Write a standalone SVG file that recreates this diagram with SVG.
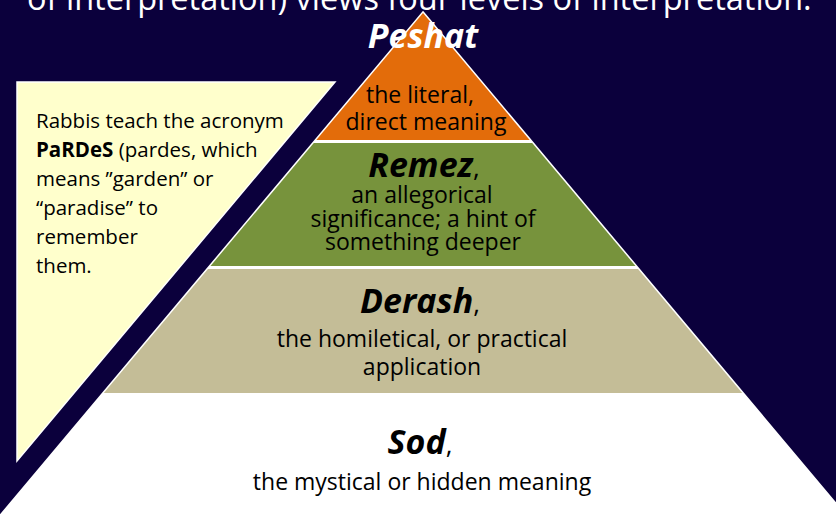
<svg xmlns="http://www.w3.org/2000/svg" width="836" height="518" viewBox="0 0 836 518">
<style>
text{font-family:"Open Sans","Liberation Sans",sans-serif;}
.title{font-size:32.5px;fill:#ffffff;}
.hd{font-size:34px;font-weight:bold;font-style:italic;text-anchor:middle;fill:#000000;}
.cm{font-weight:normal;font-style:normal;font-size:26px;}
.body{font-size:23px;fill:#000000;text-anchor:middle;}
.note{font-size:20.5px;fill:#000000;}
.band{stroke:none;}
</style>
<rect x="0" y="0" width="836" height="518" fill="#0b003c"/>
<g id="title">
<text class="title" x="27" y="9.5">of interpretation) views four levels of interpretation.</text>
</g>
<g id="note">
<polygon points="17,82 335,82 17,461" fill="#ffffcc" stroke="#ffffff" stroke-width="1.5" stroke-linejoin="miter"/>
<text class="note" x="36" y="128">Rabbis teach the acronym</text>
<text class="note" x="36" y="157"><tspan font-weight="bold">PaRDeS</tspan> (pardes, which</text>
<text class="note" x="36" y="186">means ”garden” or</text>
<text class="note" x="36" y="215">“paradise” to</text>
<text class="note" x="36" y="244">remember</text>
<text class="note" x="36" y="273">them.</text>
</g>
<g id="pyramid">
<polygon points="423,13 847.2,518 -1.2,518" fill="#ffffff" stroke="#ffffff" stroke-width="3"/>
<g id="sod">
<text class="hd" x="420" y="454">Sod<tspan class="cm">,</tspan></text>
<text class="body" x="422" y="490">the mystical or hidden meaning</text>
</g>
<g id="derash">
<polygon class="band" points="208,269 638,269 742.2,393 103.8,393" fill="#c4bd97"/>
<text class="hd" x="420" y="313">Derash<tspan class="cm">,</tspan></text>
<text class="body" x="422" y="347">the homiletical, or practical</text>
<text class="body" x="422" y="375">application</text>
</g>
<g id="remez">
<polygon class="band" points="313.8,143 532.2,143 635.5,266 210.5,266" fill="#77933c"/>
<text class="hd" x="424" y="177">Remez<tspan class="cm">,</tspan></text>
<text class="body" x="422" y="203">an allegorical</text>
<text class="body" x="423" y="227">significance; a hint of</text>
<text class="body" x="423" y="250">something deeper</text>
</g>
<g id="peshat">
<polygon class="band" points="423,13 529.7,140 316.3,140" fill="#e36c0a"/>
<text class="hd" x="423" y="48" style="fill:#ffffff">Peshat</text>
<text class="body" x="420" y="103">the literal,</text>
<text class="body" x="426" y="130">direct meaning</text>
</g>
</g>
<g id="connectors"/>
</svg>
